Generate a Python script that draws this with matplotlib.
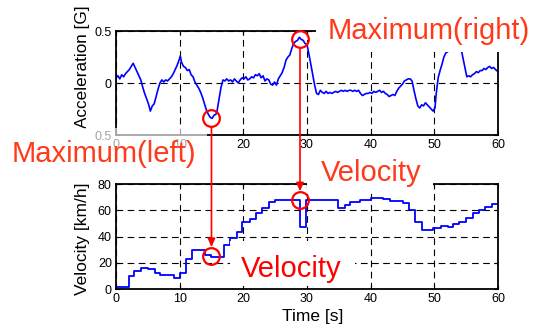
import matplotlib
matplotlib.use("Agg")
import matplotlib.pyplot as plt
from matplotlib.patches import Rectangle

plt.rcParams['font.family'] = ['Liberation Sans', 'DejaVu Sans']

# acceleration [G]
acc_t = [0.0, 0.3, 0.6, 0.9, 1.2, 1.5, 1.8, 2.1, 2.4, 2.7, 3.0, 3.3, 3.6, 3.9, 4.2, 4.5, 4.8, 5.1,
         5.4, 5.7, 6.0, 6.3, 6.6, 6.9, 7.2, 7.5, 7.8, 8.1, 8.4, 8.7, 9.0, 9.3, 9.6, 9.9, 10.1, 10.3,
         10.6, 10.9, 11.2, 11.5, 11.8, 12.1, 12.4, 12.7, 13.0, 13.3, 13.6, 13.9, 14.2, 14.5, 14.8,
         15.1, 15.4, 15.7, 15.9, 16.2, 16.5, 16.8, 17.1, 17.4, 17.7, 18.0, 18.3, 18.6, 18.9, 19.2,
         19.5, 19.8, 20.1, 20.4, 20.7, 21.0, 21.3, 21.6, 21.9, 22.2, 22.5, 22.8, 23.1, 23.4, 23.7,
         24.0, 24.3, 24.6, 24.9, 25.2, 25.5, 25.8, 26.1, 26.4, 26.7, 27.0, 27.3, 27.6, 27.9, 28.2,
         28.5, 28.8, 29.1, 29.4, 29.7, 30.0, 30.3, 30.6, 30.9, 31.2, 31.5, 31.8, 32.1, 32.4, 32.7,
         33.0, 33.3, 33.6, 33.9, 34.2, 34.5, 34.8, 35.1, 35.4, 35.7, 36.0, 36.3, 36.6, 36.9, 37.2,
         37.5, 37.8, 38.1, 38.4, 38.7, 39.0, 39.3, 39.6, 39.9, 40.2, 40.5, 40.8, 41.1, 41.4, 41.7,
         42.0, 42.3, 42.6, 42.9, 43.2, 43.5, 43.8, 44.1, 44.4, 44.7, 45.0, 45.3, 45.6, 45.9, 46.2,
         46.5, 46.8, 47.1, 47.4, 47.7, 48.0, 48.3, 48.6, 48.9, 49.2, 49.5, 49.8, 50.1, 50.3, 50.6,
         50.9, 51.2, 51.5, 51.8, 52.1, 52.5, 53.0, 53.5, 54.0, 54.3, 54.7, 55.1, 55.4, 55.7, 56.0,
         56.3, 56.6, 56.9, 57.2, 57.5, 57.8, 58.1, 58.4, 58.7, 59.0, 59.3, 59.6, 60.0]
acc_g = [0.05, 0.07, 0.04, 0.08, 0.06, 0.09, 0.11, 0.13, 0.16, 0.19, 0.15, 0.11, 0.07, 0.03, -0.04,
         -0.10, -0.15, -0.20, -0.27, -0.22, -0.20, -0.13, -0.06, 0.00, 0.03, 0.01, 0.03, 0.02, 0.04,
         0.06, 0.09, 0.13, 0.17, 0.22, 0.26, 0.20, 0.16, 0.15, 0.12, 0.13, 0.08, 0.06, 0.01, -0.02,
         -0.05, -0.09, -0.14, -0.20, -0.26, -0.30, -0.33, -0.34, -0.31, -0.30, -0.26, -0.15, -0.04,
         0.03, 0.02, 0.04, 0.02, 0.03, 0.01, 0.04, 0.02, 0.00, 0.03, 0.05, 0.04, 0.06, 0.03, 0.04,
         0.06, 0.05, 0.08, 0.07, 0.09, 0.05, 0.07, 0.02, 0.04, 0.03, -0.01, -0.02, 0.01, -0.02, 0.04,
         0.07, 0.10, 0.15, 0.22, 0.25, 0.27, 0.33, 0.38, 0.40, 0.41, 0.44, 0.42, 0.41, 0.38, 0.37,
         0.28, 0.18, 0.08, -0.02, -0.10, -0.11, -0.07, -0.09, -0.10, -0.08, -0.10, -0.09, -0.10,
         -0.09, -0.08, -0.09, -0.08, -0.07, -0.08, -0.07, -0.08, -0.07, -0.07, -0.08, -0.07, -0.08,
         -0.07, -0.10, -0.12, -0.11, -0.10, -0.10, -0.09, -0.10, -0.08, -0.09, -0.08, -0.07, -0.09,
         -0.08, -0.10, -0.11, -0.13, -0.12, -0.11, -0.12, -0.08, -0.05, -0.03, -0.01, 0.02, 0.03,
         0.04, 0.04, 0.02, -0.07, -0.15, -0.22, -0.24, -0.21, -0.22, -0.19, -0.21, -0.23, -0.25,
         -0.27, -0.24, -0.10, 0.05, 0.12, 0.18, 0.25, 0.29, 0.30, 0.33, 0.36, 0.38, 0.36, 0.30,
         0.18, 0.06, 0.07, 0.06, 0.08, 0.09, 0.11, 0.10, 0.12, 0.12, 0.14, 0.13, 0.15, 0.16, 0.14,
         0.15, 0.13, 0.11]

# velocity [km/h], step changes
vel_t = [0, 2.0, 2.9, 4.0, 5.1, 6.1, 6.9, 9.1, 10.1, 11.0, 12.0, 14.0, 15.0, 16.9, 17.9, 19.0,
         19.8, 21.0, 22.0, 23.0, 24.0, 25.0, 28.9, 29.9, 34.9, 35.9, 36.8, 38.3, 40.0, 42.0, 43.0,
         45.1, 46.0, 47.0, 48.0, 49.8, 51.1, 52.2, 53.0, 53.9, 55.0, 56.0, 57.0, 58.0, 59.0, 60.0]
vel_kmh = [1.5, 10, 14, 16, 15, 12.5, 11, 8.5, 12.5, 22.5, 30, 26, 24.5, 33.5, 39, 43.5, 51,
           53.5, 58, 62, 66.5, 68, 47, 68, 61.5, 64, 66, 68, 69.3, 68.3, 67, 65.8, 60.2, 51, 45,
           46.2, 48, 47, 49.3, 51.3, 54.3, 57.7, 60.2, 62.7, 64.8, 64.8]

# marked points (time, accel, velocity)
mark_left = (15.0, -0.34, 25.0)
mark_right = (28.9, 0.42, 67.5)

red = '#ff0000'
orange_red = '#ff3a1a'

fig = plt.figure(figsize=(5.34, 3.34), dpi=100)
ax1 = fig.add_axes([0.2172, 0.5958, 0.7154, 0.3112])
ax2 = fig.add_axes([0.2172, 0.1347, 0.7154, 0.3144])

ax1.plot(acc_t, acc_g, color='#0000ff', lw=1.2)
ax2.plot(vel_t, vel_kmh, color='#0000ff', lw=1.3, drawstyle='steps-post')

ax1.set_xlim(0, 60)
ax1.set_ylim(-0.5, 0.5)
ax1.set_yticks([-0.5, 0, 0.5])
ax1.set_yticklabels(['0.5', '0', '0.5'])
ax2.set_xlim(0, 60)
ax2.set_ylim(0, 80)
ax2.set_yticks([0, 20, 40, 60, 80])

for ax in (ax1, ax2):
    ax.set_xticks(range(0, 61, 10))
    ax.grid(True, color='black', lw=0.8, linestyle=(0, (6, 4)))
    ax.tick_params(direction='in', length=3, labelsize=9, pad=3,
                   top=True, right=True, colors='black')
    for s in ax.spines.values():
        s.set_linewidth(1.3)

ax1.set_ylabel('Acceleration [G]', fontsize=12.3)
ax1.yaxis.set_label_coords(-0.068, 0.66)
ax2.set_ylabel('Velocity [km/h]', fontsize=12.5)
ax2.yaxis.set_label_coords(-0.068, 0.482)
ax2.set_xlabel('Time [s]', fontsize=12.5)
ax2.xaxis.set_label_coords(0.514, -0.19)

# circles and arrows
for t, a, v in (mark_left, mark_right):
    ax1.plot([t], [a], 'o', ms=12, mfc='none', mec=red, mew=1.6, clip_on=False, zorder=5)
    ax2.plot([t], [v], 'o', ms=12, mfc='none', mec=red, mew=1.6, clip_on=False, zorder=5)
    ax2.annotate('', xy=(t, v), xycoords='data',
                 xytext=(t, a), textcoords=ax1.transData,
                 arrowprops=dict(arrowstyle='-|>,head_length=0.5,head_width=0.22',
                                 color=red, lw=1.2, shrinkA=6, shrinkB=6.5),
                 annotation_clip=False, zorder=6)

# white label backgrounds (figure fraction), the left one lets the axes show through
masks = [((0.0, 0.467), 0.3876, 0.1497, 0.65),
         ((0.5918, 0.8443), 0.4082, 0.1557, 1.0),
         ((0.5749, 0.4222), 0.2360, 0.1228, 1.0),
         ((0.4307, 0.1437), 0.2341, 0.1347, 1.0)]
for xy, w, h, al in masks:
    fig.add_artist(Rectangle(xy, w, h, transform=fig.transFigure, fc='white', ec='none',
                             alpha=al, zorder=2))

fig.text(0.195, 0.538, 'Maximum(left)', fontsize=21, color=orange_red, ha='center', va='center')
fig.text(0.802, 0.908, 'Maximum(right)', fontsize=21, color=orange_red, ha='center', va='center')
fig.text(0.695, 0.483, 'Velocity', fontsize=21, color=orange_red, ha='center', va='center')
fig.text(0.546, 0.196, 'Velocity', fontsize=21, color=red, ha='center', va='center')

fig.savefig('out.png', dpi=100)
